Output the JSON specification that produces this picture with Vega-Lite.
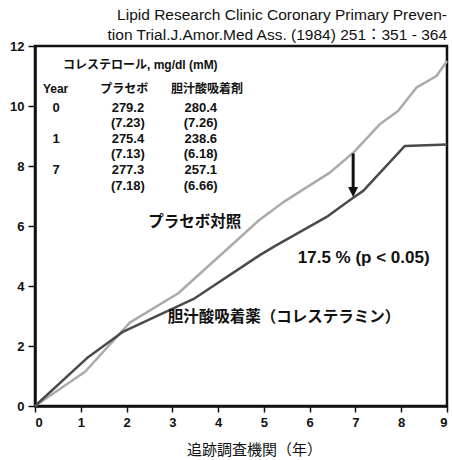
{
  "$schema": "https://vega.github.io/schema/vega-lite/v6.json",
  "autosize": {"type": "none"},
  "width": 412,
  "height": 360,
  "padding": {"left": 35, "top": 46, "right": 5, "bottom": 54},
  "background": "white",
  "title": {
    "text": ["Lipid Research Clinic Coronary Primary Preven-", "tion Trial.J.Amor.Med Ass. (1984) 251：351 - 364"],
    "anchor": "end",
    "frame": "group",
    "font": "Liberation Sans, Noto Sans CJK JP",
    "fontSize": 15.5,
    "fontWeight": "normal",
    "lineHeight": 20,
    "offset": -3,
    "color": "#111111"
  },
  "config": {
    "view": {"stroke": "#111111", "strokeWidth": 2.5},
    "axis": {
      "domainColor": "#111111",
      "domainWidth": 2.5,
      "tickColor": "#111111",
      "tickWidth": 1.5,
      "labelFont": "Liberation Sans",
      "labelFontSize": 13,
      "labelFontWeight": "bold",
      "labelColor": "#111111",
      "grid": false
    }
  },
  "datasets": {
    "lines": [
      {"series": "placebo", "year": 0, "value": 0},
      {"series": "placebo", "year": 1.1, "value": 1.15},
      {"series": "placebo", "year": 2.07, "value": 2.78},
      {"series": "placebo", "year": 3.13, "value": 3.76},
      {"series": "placebo", "year": 4.9, "value": 6.2},
      {"series": "placebo", "year": 5.46, "value": 6.83},
      {"series": "placebo", "year": 6.44, "value": 7.78},
      {"series": "placebo", "year": 6.95, "value": 8.44},
      {"series": "placebo", "year": 7.53, "value": 9.39},
      {"series": "placebo", "year": 7.93, "value": 9.83},
      {"series": "placebo", "year": 8.33, "value": 10.61},
      {"series": "placebo", "year": 8.77, "value": 11.0},
      {"series": "placebo", "year": 9, "value": 11.5},
      {"series": "resin", "year": 0, "value": 0},
      {"series": "resin", "year": 1.13, "value": 1.59},
      {"series": "resin", "year": 1.93, "value": 2.48},
      {"series": "resin", "year": 3.49, "value": 3.59},
      {"series": "resin", "year": 4.91, "value": 5.03},
      {"series": "resin", "year": 5.24, "value": 5.33},
      {"series": "resin", "year": 6.4, "value": 6.33},
      {"series": "resin", "year": 6.95, "value": 6.94},
      {"series": "resin", "year": 7.17, "value": 7.17},
      {"series": "resin", "year": 8.08, "value": 8.67},
      {"series": "resin", "year": 9, "value": 8.72}
    ],
    "tableHead": [
      {"x": 2.3, "y": 11.37, "label": "コレステロール, mg/dl (mM)"},
      {"x": 0.45, "y": 10.57, "label": "Year"},
      {"x": 1.95, "y": 10.57, "label": "プラセボ"},
      {"x": 3.76, "y": 10.57, "label": "胆汁酸吸着剤"}
    ],
    "tableBody": [
      {"x": 0.46, "y": 9.92, "label": "0"},
      {"x": 2.03, "y": 9.92, "label": "279.2"},
      {"x": 3.62, "y": 9.92, "label": "280.4"},
      {"x": 2.03, "y": 9.42, "label": "(7.23)"},
      {"x": 3.62, "y": 9.42, "label": "(7.26)"},
      {"x": 0.46, "y": 8.9, "label": "1"},
      {"x": 2.03, "y": 8.9, "label": "275.4"},
      {"x": 3.62, "y": 8.9, "label": "238.6"},
      {"x": 2.03, "y": 8.39, "label": "(7.13)"},
      {"x": 3.62, "y": 8.39, "label": "(6.18)"},
      {"x": 0.46, "y": 7.87, "label": "7"},
      {"x": 2.03, "y": 7.87, "label": "277.3"},
      {"x": 3.62, "y": 7.87, "label": "257.1"},
      {"x": 2.03, "y": 7.35, "label": "(7.18)"},
      {"x": 3.62, "y": 7.35, "label": "(6.66)"}
    ],
    "labelsJp": [
      {"x": 3.49, "y": 6.14, "label": "プラセボ対照"},
      {"x": 5.44, "y": 2.98, "label": "胆汁酸吸着薬（コレステラミン）"}
    ],
    "pct": [
      {"x": 7.18, "y": 4.93, "label": "17.5 % (p < 0.05)"}
    ],
    "arrow": [
      {"x": 6.95, "y": 8.42, "y2": 7.2, "head": 7.13}
    ]
  },
  "layer": [
    {
      "data": {"name": "lines"},
      "mark": {"type": "line", "strokeWidth": 2.5, "strokeJoin": "round"},
      "encoding": {
        "x": {
          "field": "year", "type": "quantitative",
          "scale": {"domain": [0, 9], "nice": false},
          "axis": {
            "values": [0, 1, 2, 3, 4, 5, 6, 7, 8, 9],
            "tickSize": 6,
            "labelPadding": 4,
            "title": "追跡調査機関（年）",
            "titleFont": "Noto Sans CJK JP",
            "titleFontSize": 15,
            "titleFontWeight": "normal",
            "titleColor": "#111111",
            "titlePadding": 13,
            "titleX": 219,
            "titleAlign": "center"
          }
        },
        "y": {
          "field": "value", "type": "quantitative",
          "scale": {"domain": [0, 12], "nice": false},
          "axis": {
            "values": [0, 2, 4, 6, 8, 10, 12],
            "tickSize": 7,
            "labelPadding": 4,
            "title": null
          }
        },
        "color": {
          "field": "series", "type": "nominal",
          "scale": {"domain": ["placebo", "resin"], "range": ["#ababab", "#4a4a4a"]},
          "legend": null
        }
      }
    },
    {
      "data": {"name": "arrow"},
      "mark": {"type": "rule", "strokeWidth": 3, "color": "#111111"},
      "encoding": {
        "x": {"field": "x", "type": "quantitative"},
        "y": {"field": "y", "type": "quantitative"},
        "y2": {"field": "y2"}
      }
    },
    {
      "data": {"name": "arrow"},
      "mark": {"type": "point", "shape": "M-1,-1L1,-1L0,1Z", "size": 100, "filled": true, "color": "#111111", "opacity": 1},
      "encoding": {
        "x": {"field": "x", "type": "quantitative"},
        "y": {"field": "head", "type": "quantitative"}
      }
    },
    {
      "data": {"name": "tableHead"},
      "mark": {"type": "text", "font": "Liberation Sans, Noto Sans CJK JP", "fontSize": 12, "fontWeight": "bold", "color": "#111111", "align": "center", "baseline": "middle"},
      "encoding": {
        "x": {"field": "x", "type": "quantitative"},
        "y": {"field": "y", "type": "quantitative"},
        "text": {"field": "label"}
      }
    },
    {
      "data": {"name": "tableBody"},
      "mark": {"type": "text", "font": "Liberation Sans", "fontSize": 13, "fontWeight": "bold", "color": "#111111", "align": "center", "baseline": "middle"},
      "encoding": {
        "x": {"field": "x", "type": "quantitative"},
        "y": {"field": "y", "type": "quantitative"},
        "text": {"field": "label"}
      }
    },
    {
      "data": {"name": "labelsJp"},
      "mark": {"type": "text", "font": "Noto Sans CJK JP", "fontSize": 15.5, "fontWeight": "bold", "color": "#111111", "align": "center", "baseline": "middle"},
      "encoding": {
        "x": {"field": "x", "type": "quantitative"},
        "y": {"field": "y", "type": "quantitative"},
        "text": {"field": "label"}
      }
    },
    {
      "data": {"name": "pct"},
      "mark": {"type": "text", "font": "Liberation Sans", "fontSize": 17, "fontWeight": "bold", "color": "#111111", "align": "center", "baseline": "middle"},
      "encoding": {
        "x": {"field": "x", "type": "quantitative"},
        "y": {"field": "y", "type": "quantitative"},
        "text": {"field": "label"}
      }
    }
  ]
}
